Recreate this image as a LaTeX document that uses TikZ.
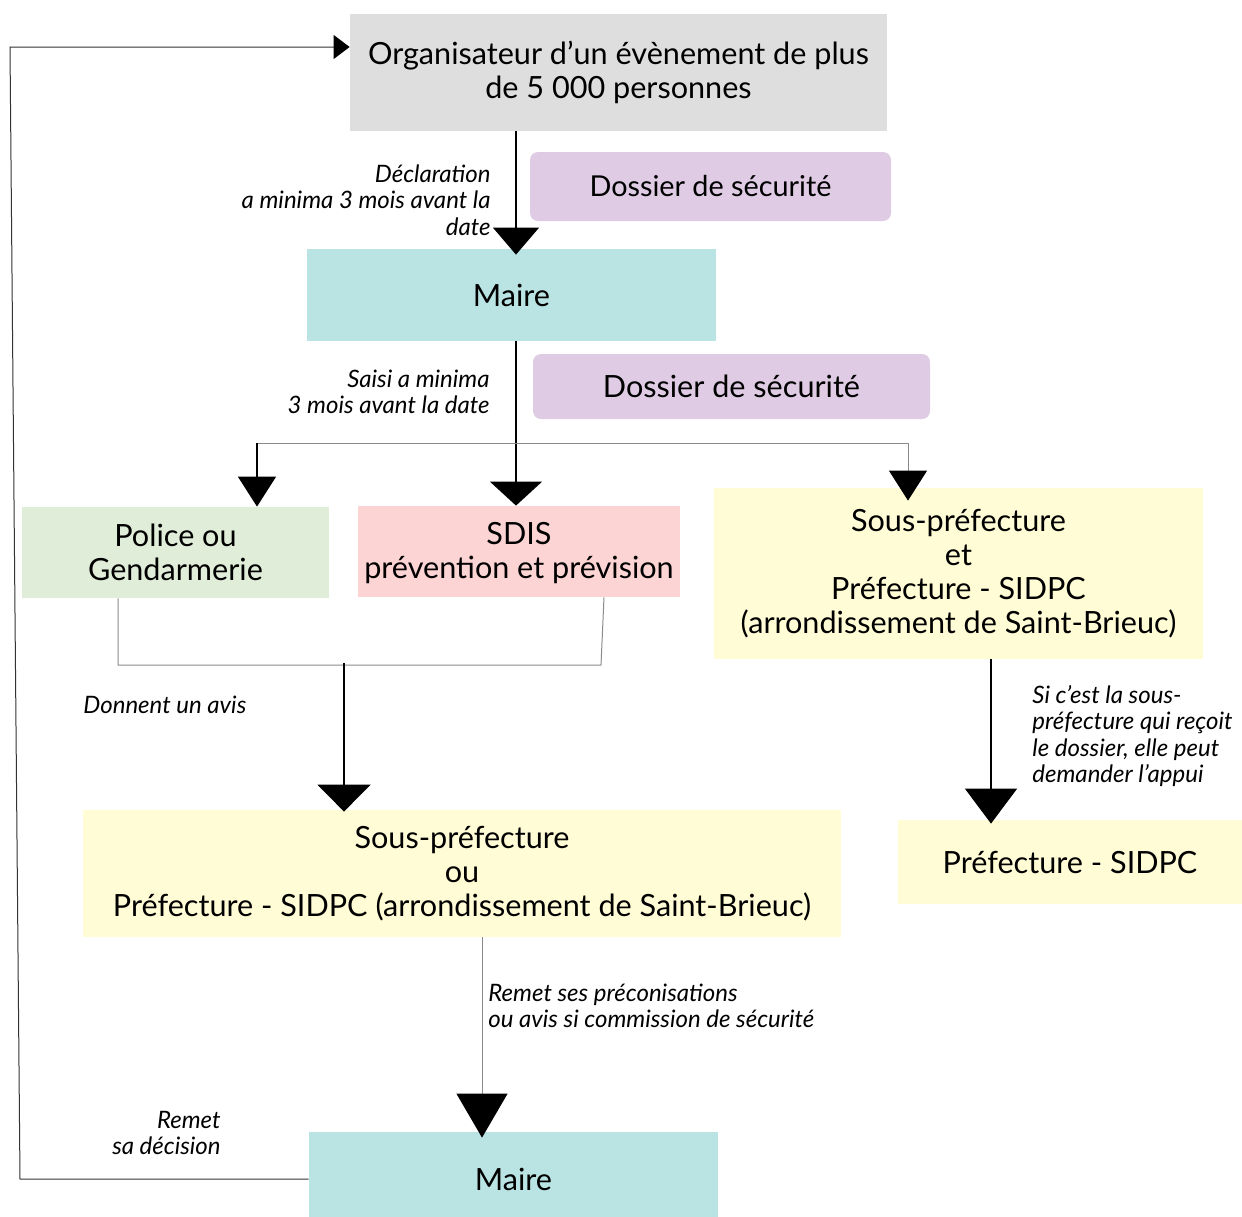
\documentclass[tikz,border=0pt]{standalone}
\usepackage{fontspec}
\setmainfont{Lato}
\usetikzlibrary{arrows.meta}
\usetikzlibrary{positioning}

\definecolor{grisfond}{HTML}{DEDEDE}
\definecolor{violetfond}{HTML}{DFCCE4}
\definecolor{turquoisefond}{HTML}{BAE3E3}
\definecolor{vertfond}{HTML}{E0EDD8}
\definecolor{rosefond}{HTML}{FCD4D4}
\definecolor{jaunefond}{HTML}{FFFCD6}
\definecolor{traitgris}{HTML}{8A8A8A}

\begin{document}
\begin{tikzpicture}
	[x=0.5pt,y=-0.5pt,
	box/.style={inner sep=0pt,align=center,font=\fontsize{15.3}{17}\selectfont},
	lab/.style={inner sep=0pt,font=\fontsize{12}{13.3}\selectfont\itshape},
	fleche/.style 2 args={-{Triangle[width=#1pt,length=#2pt,color=black]}},
	trait/.style={line width=0.7pt,black},
	branche/.style={line width=0.5pt,traitgris}]
	\useasboundingbox (0,0) rectangle (1242,1216);
	
	% boites
	\node[box,fill=grisfond,minimum width=268.5pt,minimum height=58.5pt] (orga) at (618.5,72.5) {Organisateur d’un évènement de plus\\de 5 000 personnes};
	\node[box,font=\fontsize{14.4}{17}\selectfont,fill=violetfond,rounded corners=4pt,minimum width=180.5pt,minimum height=34.5pt] (doss1) at (710.5,186.5) {Dossier de sécurité};
	\node[box,fill=turquoisefond,minimum width=204.5pt,minimum height=46pt] (maire1) at (511.5,295) {Maire};
	\node[box,fill=violetfond,rounded corners=4pt,minimum width=198.5pt,minimum height=32.5pt] (doss2) at (731.5,386.5) {Dossier de sécurité};
	\node[box,fill=vertfond,minimum width=153.5pt,minimum height=45.5pt] (police) at (175.5,552.5) {Police ou\\Gendarmerie};
	\node[box,fill=rosefond,minimum width=161pt,minimum height=45.5pt] (sdis) at (519,551.5) {\\[-4pt]SDIS\\prévention et prévision};
	\node[box,fill=jaunefond,minimum width=244.5pt,minimum height=85.5pt] (sousA) at (958.5,573.5) {Sous-préfecture\\et\\Préfecture - SIDPC\\(arrondissement de Saint-Brieuc)};
	\node[box,fill=jaunefond,minimum width=172pt,minimum height=42pt] (pref) at (1070,862) {Préfecture - SIDPC};
	\node[box,fill=jaunefond,minimum width=379pt,minimum height=63.5pt] (sousB) at (462,873.5) {Sous-préfecture\\ou\\Préfecture - SIDPC (arrondissement de Saint-Brieuc)};
	\node[box,fill=turquoisefond,minimum width=204.5pt,minimum height=47pt] (maire2) at (513.5,1179) {Maire};
	
	% textes des fleches
	\node[lab,anchor=east,align=right] (l1) at (491,200) {Déclaration\\a minima 3 mois avant la\\date};
	\node[lab,anchor=east,align=right] (l2) at (490,392) {Saisi a minima\\3 mois avant la date};
	\node[lab,anchor=west] (l3) at (83,705) {Donnent un avis};
	\node[lab,anchor=west,align=left] (l4) at (1032,736) {Si c’est la sous-\\préfecture qui reçoit\\le dossier, elle peut\\demander l’appui};
	\node[lab,anchor=west,align=left] (l5) at (488,1006) {Remet ses préconisations\\ou avis si commission de sécurité};
	\node[lab,anchor=east,align=right] (l6) at (221,1133) {Remet\\sa décision};
	
	% points de passage
	\coordinate (c1) at (516,0);
	\coordinate (pa) at (257,443);
	\coordinate (sa) at (908,443);
	\coordinate (pb) at (118,665);
	\coordinate (sb) at (601,665);
	\coordinate (mb) at (344,663);
	\coordinate (c3) at (991,0);
	\coordinate (c4) at (482,0);
	\coordinate (rb) at (20,1179);
	\coordinate (rh) at (10,47);
	
	% liaisons
	\draw[trait,fleche={23}{13.5}] (orga.south -| c1) -- ([yshift=-3pt]maire1.north -| c1);
	\draw[trait,fleche={26}{12}] (maire1.south -| c1) -- (sdis.north -| c1);
	\draw[branche] (pa) -- (sa);
	\draw[trait,fleche={19}{15}] (pa) -- (police.north -| pa);
	\draw[branche,fleche={19}{15}] (sa) -- ([yshift=-6.5pt]sousA.north -| sa);
	\draw[branche] (police.south -| pb) -- (pb) -- (sb) -- ([xshift=1.5pt]sdis.south -| sb);
	\draw[trait,fleche={26.5}{13.5}] (mb) -- ([yshift=-1pt]sousB.north -| mb);
	\draw[trait,fleche={26}{17.5}] (sousA.south -| c3) -- ([yshift=-2pt]pref.north -| c3);
	\draw[branche,fleche={25.5}{22}] (sousB.south -| c4) -- ([yshift=-3pt]maire2.north -| c4);
	\draw[line width=0.5pt,black!80,fleche={12}{8}] (maire2.west |- rb) -- (rb) -- (rh) -- (rh -| orga.west);
\end{tikzpicture}
\end{document}
